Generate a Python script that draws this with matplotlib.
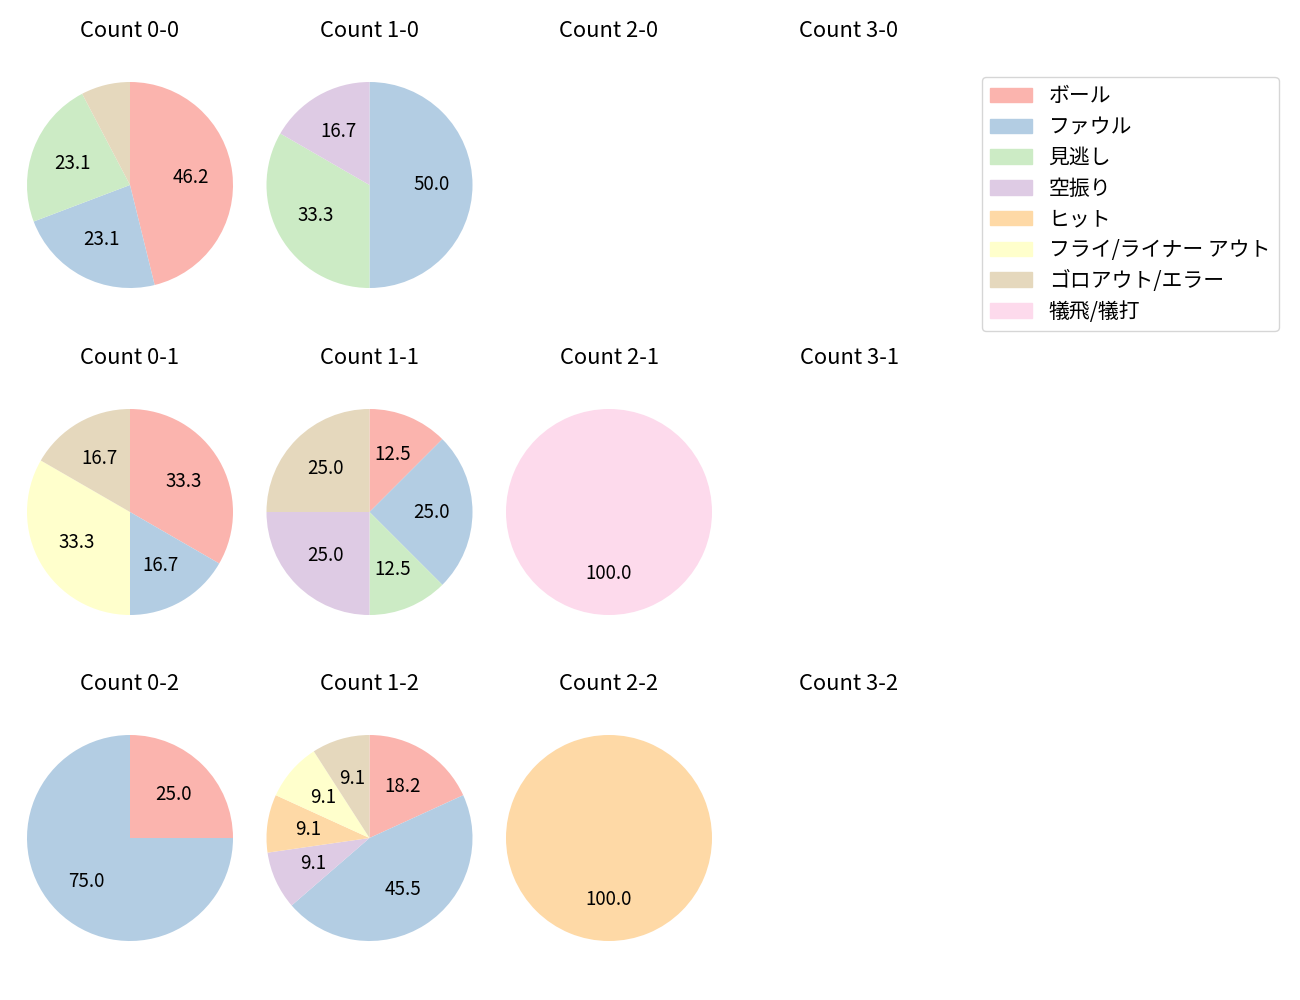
import matplotlib
matplotlib.use("Agg")
import matplotlib.pyplot as plt
import matplotlib.patches as mpatches

plt.rcParams['font.family'] = ['Noto Sans CJK JP', 'DejaVu Sans']

categories = ['ボール', 'ファウル', '見逃し', '空振り', 'ヒット',
              'フライ/ライナー アウト', 'ゴロアウト/エラー', '犠飛/犠打']
colors = ['#fbb4ae', '#b3cde3', '#ccebc5', '#decbe4', '#fed9a6',
          '#ffffcc', '#e5d8bd', '#fddaec']

# counts per category (same order as categories), per ball-strike count
count_0_0 = [6, 3, 3, 0, 0, 0, 1, 0]
count_1_0 = [0, 3, 2, 1, 0, 0, 0, 0]
count_2_0 = []
count_3_0 = []
count_0_1 = [2, 1, 0, 0, 0, 2, 1, 0]
count_1_1 = [1, 2, 1, 2, 0, 0, 2, 0]
count_2_1 = [0, 0, 0, 0, 0, 0, 0, 1]
count_3_1 = []
count_0_2 = [1, 3, 0, 0, 0, 0, 0, 0]
count_1_2 = [2, 5, 0, 1, 1, 1, 1, 0]
count_2_2 = [0, 0, 0, 0, 1, 0, 0, 0]
count_3_2 = []

grid = [
    [('Count 0-0', count_0_0), ('Count 1-0', count_1_0), ('Count 2-0', count_2_0), ('Count 3-0', count_3_0)],
    [('Count 0-1', count_0_1), ('Count 1-1', count_1_1), ('Count 2-1', count_2_1), ('Count 3-1', count_3_1)],
    [('Count 0-2', count_0_2), ('Count 1-2', count_1_2), ('Count 2-2', count_2_2), ('Count 3-2', count_3_2)],
]

W, H = 1300, 1000
fig = plt.figure(figsize=(13, 10), dpi=100)

col_cx = [130, 369.5, 609, 849]
row_cy = [185, 512, 838]
R = 103.0
half_w, half_h = 120.0, 130.0

for r, row in enumerate(grid):
    for c, (title, vals) in enumerate(row):
        cx, cy = col_cx[c], row_cy[r]
        ax = fig.add_axes([(cx - half_w) / W, 1 - (cy + half_h) / H,
                           2 * half_w / W, 2 * half_h / H])
        nz = [(v, col) for v, col in zip(vals, colors) if v > 0]
        if nz:
            ax.pie([v for v, _ in nz], colors=[col for _, col in nz],
                   startangle=90, counterclock=False,
                   autopct=lambda p: f'{p:.1f}' if p > 8 else '',
                   pctdistance=0.6, textprops={'fontsize': 13.5})
        ax.set_xlim(-half_w / R, half_w / R)
        ax.set_ylim(-half_h / R, half_h / R)
        ax.set_aspect('auto')
        ax.axis('off')
        ax.set_title(title, fontsize=15.8, pad=13)

handles = [mpatches.Patch(color=col, label=lab) for lab, col in zip(categories, colors)]
fig.legend(handles=handles, loc='upper left',
           bbox_to_anchor=(982 / W, 1 - 77 / H), borderaxespad=0,
           fontsize=15, labelspacing=0.42, frameon=True)

fig.savefig('out.png', dpi=100)
